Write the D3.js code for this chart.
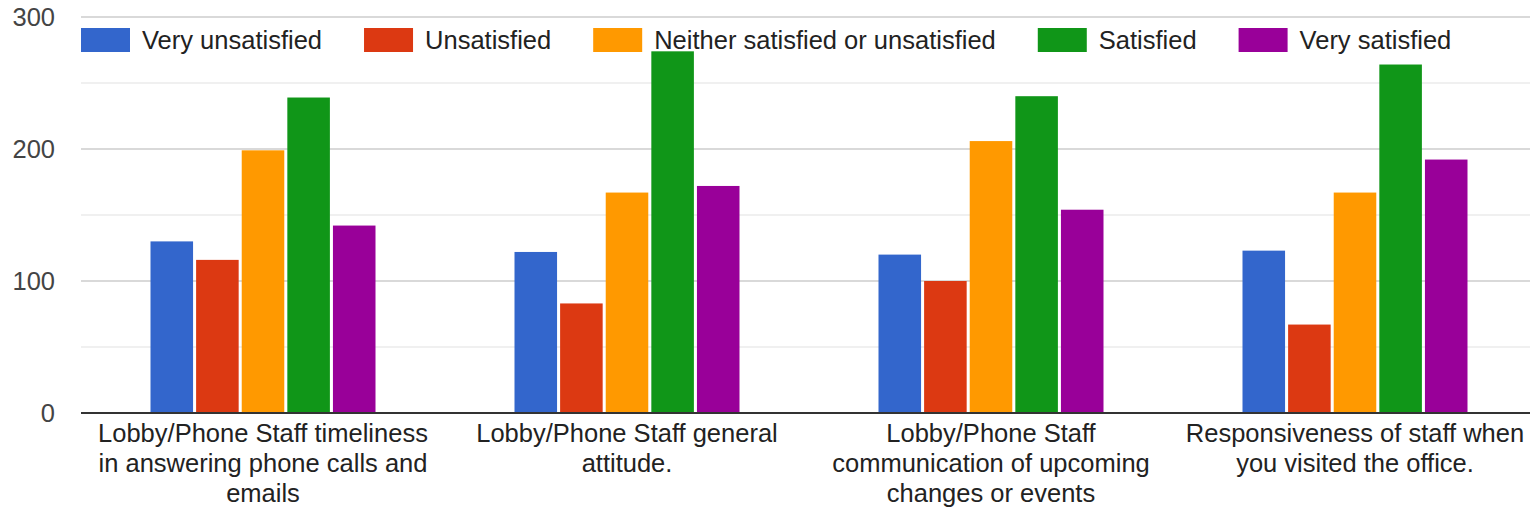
<!DOCTYPE html>
<html>
<head>
<meta charset="utf-8">
<script src="https://cdn.jsdelivr.net/npm/d3@7"></script>
<style>
  html, body { margin: 0; padding: 0; background: #fff; }
  svg { display: block; font-family: "Liberation Sans", Arial, sans-serif; }
</style>
</head>
<body>
<svg id="chart" width="1530" height="513"></svg>
<script>
// Survey categories (x axis)
const categories = [
  "Lobby/Phone Staff timeliness in answering phone calls and emails",
  "Lobby/Phone Staff general attitude.",
  "Lobby/Phone Staff communication of upcoming changes or events",
  "Responsiveness of staff when you visited the office."
];

// Response options (series)
const seriesNames = [
  "Very unsatisfied",
  "Unsatisfied",
  "Neither satisfied or unsatisfied",
  "Satisfied",
  "Very satisfied"
];
const seriesColors = ["#3366cc", "#dc3912", "#ff9900", "#109618", "#990099"];

// Response counts per series, one value per category
const veryUnsatisfied = [130, 122, 120, 123];
const unsatisfied     = [116, 83, 100, 67];
const neither         = [199, 167, 206, 167];
const satisfied       = [239, 274, 240, 264];
const verySatisfied   = [142, 172, 154, 192];

const yTicks = [0, 100, 200, 300];
const yMinorTicks = [50, 150, 250];

const seriesValues = [veryUnsatisfied, unsatisfied, neither, satisfied, verySatisfied];

const svg = d3.select("#chart");
const plot = { left: 81, right: 1537, top: 17, bottom: 413 };
const fontSize = 25.5;

const y = d3.scaleLinear().domain([0, 300]).range([plot.bottom, plot.top]);
const x0 = d3.scaleBand().domain(categories).range([plot.left, plot.right]).padding(0);
const groupWidth = 225;
const x1 = d3.scaleBand()
  .domain(seriesNames)
  .range([(x0.bandwidth() - groupWidth) / 2, (x0.bandwidth() + groupWidth) / 2])
  .paddingInner(0.067);

// Grid lines
svg.append("g").selectAll("line.minor").data(yMinorTicks).join("line")
  .attr("x1", plot.left).attr("x2", 1530)
  .attr("y1", d => y(d)).attr("y2", d => y(d))
  .attr("stroke", "#ebebeb").attr("stroke-width", 1.5);
svg.append("g").selectAll("line.major").data(yTicks.filter(d => d > 0)).join("line")
  .attr("x1", plot.left).attr("x2", 1530)
  .attr("y1", d => y(d)).attr("y2", d => y(d))
  .attr("stroke", "#cccccc").attr("stroke-width", 1.5);

// Y tick labels
svg.append("g").selectAll("text").data(yTicks).join("text")
  .attr("x", 55).attr("y", d => y(d)).attr("dy", "0.35em")
  .attr("text-anchor", "end")
  .attr("font-size", fontSize).attr("fill", "#444")
  .text(d => d);

// Bars
const groups = svg.append("g").selectAll("g").data(categories).join("g")
  .attr("transform", d => `translate(${x0(d)},0)`);
groups.selectAll("rect")
  .data((c, ci) => seriesNames.map((s, si) => ({ s, si, v: seriesValues[si][ci] })))
  .join("rect")
  .attr("x", d => x1(d.s))
  .attr("width", x1.bandwidth())
  .attr("y", d => y(d.v))
  .attr("height", d => y(0) - y(d.v))
  .attr("fill", d => seriesColors[d.si]);

// Baseline
svg.append("line")
  .attr("x1", plot.left).attr("x2", 1530)
  .attr("y1", y(0)).attr("y2", y(0))
  .attr("stroke", "#333").attr("stroke-width", 2);

// Category labels, wrapped to a fixed width
const wrapWidth = 345;
const xLabels = svg.append("g").selectAll("text").data(categories).join("text")
  .attr("text-anchor", "middle")
  .attr("font-size", fontSize).attr("fill", "#222")
  .attr("x", d => x0(d) + x0.bandwidth() / 2)
  .attr("y", 433);
xLabels.each(function (d) {
  const t = d3.select(this);
  const cx = +t.attr("x");
  const words = d.split(" ");
  let line = [];
  let tspan = t.append("tspan").attr("x", cx).attr("dy", "0.35em");
  words.forEach(w => {
    line.push(w);
    tspan.text(line.join(" "));
    if (tspan.node().getComputedTextLength() > wrapWidth && line.length > 1) {
      line.pop();
      tspan.text(line.join(" "));
      line = [w];
      tspan = t.append("tspan").attr("x", cx).attr("dy", 30).text(w);
    }
  });
});

// Legend
const legend = svg.append("g");
let lx = 81;
seriesNames.forEach((name, i) => {
  legend.append("rect")
    .attr("x", lx).attr("y", 28).attr("width", 49).attr("height", 24)
    .attr("fill", seriesColors[i]);
  const t = legend.append("text")
    .attr("x", lx + 61).attr("y", 40).attr("dy", "0.35em")
    .attr("font-size", fontSize).attr("fill", "#222")
    .text(name);
  lx += 61 + t.node().getComputedTextLength() + 42;
});
</script>
</body>
</html>
